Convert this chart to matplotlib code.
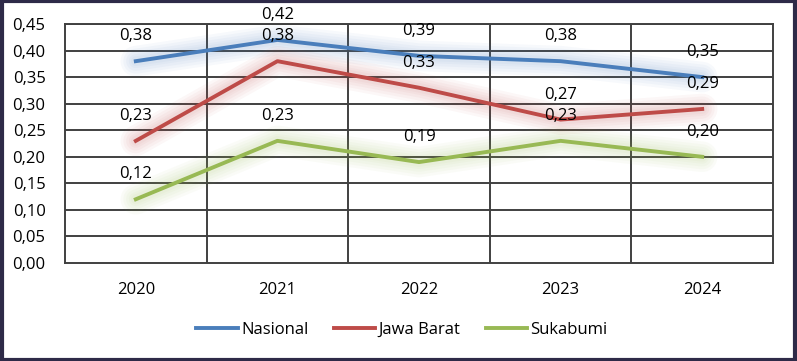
import matplotlib.pyplot as plt
import matplotlib.patches as mpatches

years = ["2020", "2021", "2022", "2023", "2024"]
nasional = [0.38, 0.42, 0.39, 0.38, 0.35]
jawa_barat = [0.23, 0.38, 0.33, 0.27, 0.29]
sukabumi = [0.12, 0.23, 0.19, 0.23, 0.20]

series = [
    ("Nasional", nasional, "#4A7EBB"),
    ("Jawa Barat", jawa_barat, "#BE4B48"),
    ("Sukabumi", sukabumi, "#98B954"),
]

plt.rcParams['font.family'] = ['Open Sans', 'DejaVu Sans']
fs = 12

fig = plt.figure(figsize=(7.97, 3.61), dpi=100)
ax = fig.add_axes([65 / 797, 1 - 263 / 361, 708 / 797, 239 / 361])

x = list(range(len(years)))
for name, vals, col in series:
    # soft glow behind each line, stacked layers
    for w in [22, 18, 14, 10, 7]:
        ax.plot(x, vals, color=col, lw=w, alpha=0.045, solid_capstyle='round', zorder=2)
    ax.plot(x, vals, color=col, lw=2.8, label=name, zorder=3)
    for xi, v in zip(x, vals):
        ax.annotate(f"{v:.2f}".replace(".", ","), (xi, v), xytext=(0, 18),
                    textcoords='offset points', ha='center', va='center',
                    fontsize=fs, color='black', zorder=4)

ax.set_xlim(-0.5, 4.5)
ax.set_ylim(0, 0.45)
ax.set_yticks([i * 0.05 for i in range(10)])
ax.set_yticklabels([f"{i * 0.05:.2f}".replace(".", ",") for i in range(10)], fontsize=fs)
ax.set_xticks(x)
ax.set_xticklabels(years, fontsize=fs)
ax.tick_params(length=0)
ax.tick_params(axis='x', pad=14)
ax.tick_params(axis='y', pad=14)

ax.grid(False)
for yv in [i * 0.05 for i in range(1, 10)]:
    ax.axhline(yv, color='#404040', lw=1.4, zorder=1)
for xv in [0.5, 1.5, 2.5, 3.5]:
    ax.axvline(xv, color='#404040', lw=1.4, zorder=1)
for s in ax.spines.values():
    s.set_color('#404040')
    s.set_linewidth(1.4)

leg = fig.legend(loc='center', bbox_to_anchor=(402 / 797, 1 - 330 / 361), ncol=3,
                 frameon=False, fontsize=fs, handlelength=2.5, handletextpad=0.2,
                 columnspacing=1.5)

fig.patches.append(mpatches.Rectangle((0.002, 0.004), 0.996, 0.992, transform=fig.transFigure,
                                      fill=False, edgecolor='#2E2A48', lw=3))

fig.savefig("out.png", dpi=100)
